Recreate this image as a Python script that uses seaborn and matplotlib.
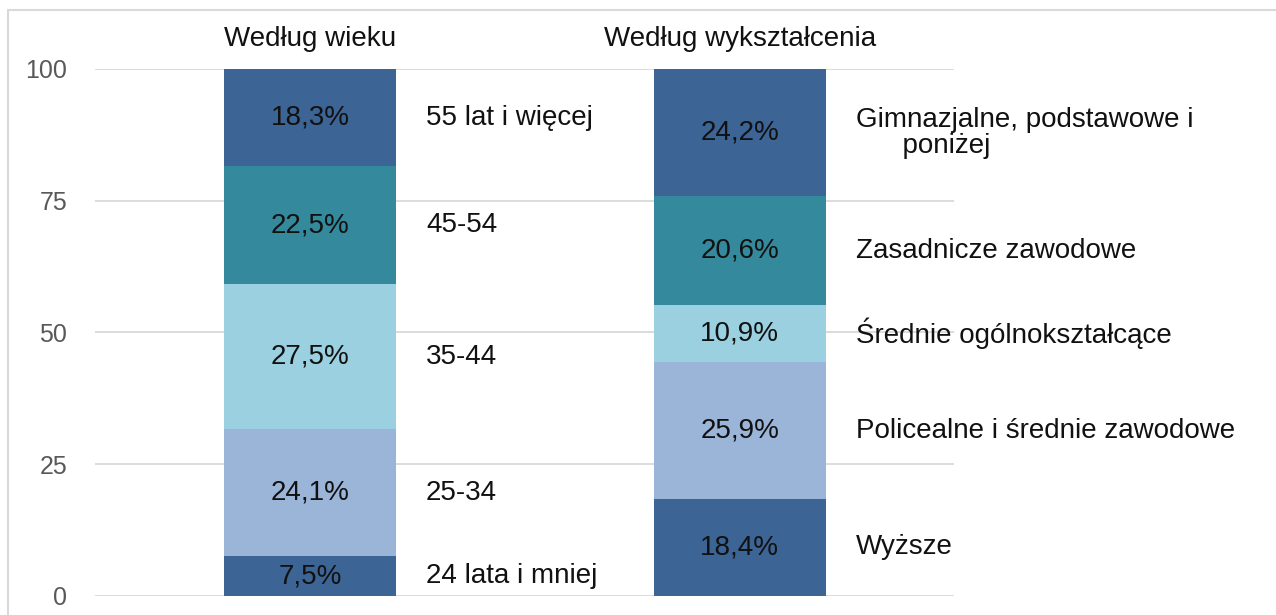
import pandas as pd
import matplotlib
matplotlib.use("Agg")
import matplotlib.pyplot as plt
import matplotlib.patches as mpatches
import seaborn as sns

# Data
groups = ["Według wieku", "Według wykształcenia"]

age_labels = ["24 lata i mniej", "25-34", "35-44", "45-54", "55 lat i więcej"]
age_values = [7.5, 24.1, 27.5, 22.5, 18.3]

edu_labels = ["Wyższe", "Policealne i średnie zawodowe", "Średnie ogólnokształcące",
              "Zasadnicze zawodowe", "Gimnazjalne, podstawowe i\n      poniżej"]
edu_values = [18.4, 25.9, 10.9, 20.6, 24.2]

colors = ["#3C6494", "#9BB5D9", "#9AD0E0", "#35899C", "#3C6494"]

# Build a long table with cumulative tops for stacking
rows = []
for g, labels, values in [(groups[0], age_labels, age_values), (groups[1], edu_labels, edu_values)]:
    bottom = 0
    for i, (lab, v) in enumerate(zip(labels, values)):
        rows.append({"group": g, "layer": i, "label": lab, "value": v,
                     "bottom": bottom, "top": bottom + v})
        bottom += v
df = pd.DataFrame(rows)

sns.set_theme(style="white")
plt.rcParams["font.family"] = ["Liberation Sans", "DejaVu Sans"]

fig = plt.figure(figsize=(12.76, 6.15), dpi=100)
ax = fig.add_axes([0.0745, 0.031, 0.6735, 0.857])

# Stacked bars: draw the tallest cumulative layer first, lower ones on top
for i in reversed(range(5)):
    sub = df[df["layer"] == i]
    sns.barplot(data=sub, x="group", y="top", order=groups, color=colors[i],
                saturation=1, width=0.4, linewidth=0, ax=ax, zorder=2)

# Labels inside and beside the segments
for _, r in df.iterrows():
    xpos = groups.index(r["group"])
    mid = r["bottom"] + r["value"] / 2
    ax.text(xpos, mid, f"{r['value']:.1f}".replace(".", ",") + "%",
            ha="center", va="center", fontsize=20, color="#111111", zorder=3)
    ax.text(xpos + 0.27, mid, r["label"], ha="left", va="center",
            fontsize=20, color="#111111", zorder=3, linespacing=1.0)

ax.set_xlim(-0.5, 1.5)
ax.set_ylim(0, 100)
ax.set_yticks([0, 25, 50, 75, 100])
ax.yaxis.grid(True, color="#D9D9D9", linewidth=1.3, zorder=0)
ax.set_axisbelow(True)
ax.tick_params(axis="y", length=0, labelsize=18, labelcolor="#595959", pad=20)
ax.xaxis.tick_top()
ax.tick_params(axis="x", length=0, labelsize=20, labelcolor="#111111", pad=12)
ax.set_xlabel("")
ax.set_ylabel("")
for s in ax.spines.values():
    s.set_visible(False)

# Light frame around the chart
fig.patches.append(mpatches.Rectangle((8 / 1276, -0.1), 1.1, 1.084,
                                      transform=fig.transFigure, fill=False,
                                      edgecolor="#D9D9D9", linewidth=1.5))

fig.savefig("out.png", dpi=100)
